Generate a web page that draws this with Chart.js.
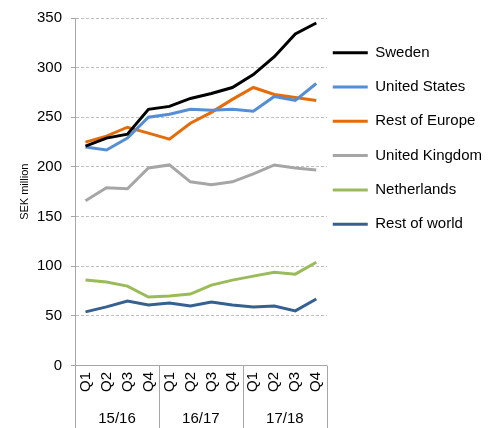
<!DOCTYPE html>
<html>
<head>
<meta charset="utf-8">
<script src="https://cdn.jsdelivr.net/npm/chart.js"></script>
<style>
html, body { margin: 0; padding: 0; background: #fff; overflow: hidden; }
canvas { display: block; }
</style>
</head>
<body>
<canvas id="chart" width="499" height="428"></canvas>
<script>
const quarters = ['Q1', 'Q2', 'Q3', 'Q4', 'Q1', 'Q2', 'Q3', 'Q4', 'Q1', 'Q2', 'Q3', 'Q4'];
const years = ['15/16', '16/17', '17/18'];

const sweden = [221, 229, 233, 258, 261, 269, 274, 280, 293, 311, 334, 345];
const unitedStates = [220, 217, 229, 250, 253, 258, 257, 258, 256, 271, 267, 284];
const restOfEurope = [225, 231, 240, 234, 228, 244, 255, 268, 280, 273, 270, 267];
const unitedKingdom = [166, 179, 178, 199, 202, 185, 182, 185, 193, 202, 199, 197];
const netherlands = [86, 84, 80, 69, 70, 72, 81, 86, 90, 94, 92, 104];
const restOfWorld = [54, 59, 65, 61, 63, 60, 64, 61, 59, 60, 55, 67];

const font = { family: '"Liberation Sans", Arial, sans-serif', size: 15 };
const axisGrey = '#a6a6a6';

function series(label, data, color) {
    return {
        label: label,
        data: data,
        borderColor: color,
        backgroundColor: color,
        borderWidth: 3,
        pointRadius: 0,
        tension: 0,
        fill: false
    };
}

// vertical lines between the year groups, from the x axis down to the bottom
const yearSeparators = {
    id: 'yearSeparators',
    afterDraw(chart) {
        const x = chart.scales.x;
        const ctx = chart.ctx;
        ctx.save();
        ctx.strokeStyle = axisGrey;
        ctx.lineWidth = 1;
        for (let i = 0; i <= quarters.length; i += 4) {
            const px = Math.round(x.getPixelForValue(i - 0.5)) + 0.5;
            ctx.beginPath();
            ctx.moveTo(px, x.top);
            ctx.lineTo(px, chart.height);
            ctx.stroke();
        }
        ctx.restore();
    }
};

new Chart(document.getElementById('chart'), {
    type: 'line',
    data: {
        labels: quarters,
        datasets: [
            series('Sweden', sweden, '#000000'),
            series('United States', unitedStates, '#558ed5'),
            series('Rest of Europe', restOfEurope, '#e46c0a'),
            series('United Kingdom', unitedKingdom, '#a6a6a6'),
            series('Netherlands', netherlands, '#9bbb59'),
            series('Rest of world', restOfWorld, '#376092')
        ]
    },
    plugins: [yearSeparators],
    options: {
        responsive: false,
        animation: false,
        devicePixelRatio: 1,
        layout: { padding: { top: 5, right: 7, bottom: 0, left: 0 } },
        plugins: {
            tooltip: { enabled: false },
            legend: {
                position: 'right',
                align: 'start',
                maxWidth: 175,
                title: { display: true, text: '', font: { size: 1 }, padding: { top: 33, bottom: 0 } },
                labels: {
                    usePointStyle: true,
                    pointStyle: 'line',
                    pointStyleWidth: 35,
                    padding: 6,
                    color: '#000',
                    font: { family: font.family, size: 15, lineHeight: 28.3 / 15 },
                    // one-line arrays so the item height follows the font lineHeight
                    generateLabels: chart => Chart.defaults.plugins.legend.labels.generateLabels(chart)
                        .map(item => Object.assign(item, { text: [item.text] }))
                }
            }
        },
        scales: {
            x: {
                offset: true,
                grid: { display: false, drawTicks: false },
                border: { display: true, color: axisGrey },
                ticks: {
                    minRotation: 90,
                    maxRotation: 90,
                    autoSkip: false,
                    padding: 6.5,
                    color: '#000',
                    font: font
                },
                afterFit: scale => { scale.height = 27; }
            },
            x2: {
                type: 'category',
                labels: years,
                offset: true,
                position: 'bottom',
                grid: { display: false, drawTicks: false },
                border: { display: false },
                ticks: { maxRotation: 0, autoSkip: false, padding: 17.5, color: '#000', font: font },
                afterFit: scale => { scale.height = 35.5; }
            },
            y: {
                min: 0,
                max: 350,
                ticks: { stepSize: 50, padding: 9, color: '#000', font: font },
                grid: { tickLength: 4, color: '#bdbdbd', tickColor: axisGrey },
                border: { display: true, color: axisGrey, dash: [3, 2] },
                title: {
                    display: true,
                    text: 'SEK million',
                    color: '#000',
                    font: { family: font.family, size: 11 },
                    padding: { top: 18, bottom: 0 }
                },
                afterFit: scale => { scale.width = 75; }
            }
        }
    }
});
</script>
</body>
</html>
